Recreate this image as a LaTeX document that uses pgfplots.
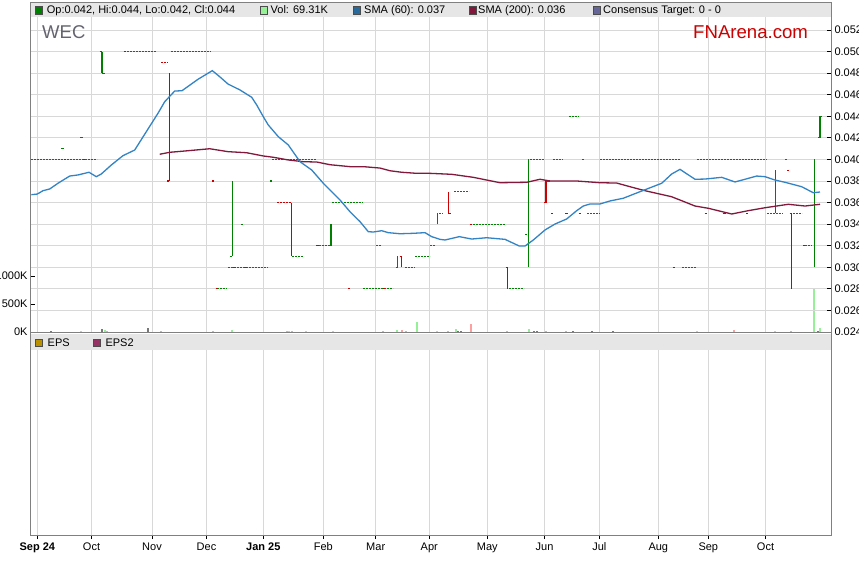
\documentclass[border=0pt]{standalone}
\usepackage{fontspec}
\setmainfont{Liberation Sans}
\usepackage{pgfplots}
\pgfplotsset{compat=1.18}
\definecolor{gridc}{RGB}{216,216,216}
\definecolor{bandc}{RGB}{230,230,230}
\definecolor{framec}{RGB}{128,128,128}
\definecolor{upc}{RGB}{0,128,0}
\definecolor{dnc}{RGB}{204,0,0}
\definecolor{volup}{RGB}{150,240,150}
\definecolor{voldn}{RGB}{255,160,160}
\definecolor{volgr}{RGB}{120,120,120}
\definecolor{sma60}{RGB}{51,132,196}
\definecolor{sma200}{RGB}{130,25,60}
\definecolor{consc}{RGB}{102,102,153}
\definecolor{epsc}{RGB}{184,144,0}
\definecolor{epstwo}{RGB}{150,50,100}
\definecolor{wecc}{RGB}{100,100,112}
\definecolor{fnc}{RGB}{204,0,0}
\begin{document}
\begin{tikzpicture}[font=\fontsize{11pt}{13pt}\selectfont]
\fill[white] (0pt,0pt) rectangle (859pt,566pt);
\fill[bandc] (30.5pt,563.5pt) rectangle (831pt,549pt);
\fill[bandc] (30.5pt,232pt) rectangle (831pt,216pt);

% ---------------- volume axis ----------------
\begin{axis}[at={(31pt,234pt)}, anchor=south west, scale only axis,
  width=800pt, height=315pt,
  xmin=31, xmax=831, ymin=0, ymax=5625,
  axis line style={draw=none},
  xtick=\empty, ytick={0,500,1000}, yticklabels={0K,500K,1000K},
  ytick pos=left, tick align=inside, major tick length=4pt,
  y tick style={black, line width=0.8pt},
  yticklabel style={font=\fontsize{11pt}{13pt}\selectfont}]
\addplot[ycomb, volup, line width=1.2pt] coordinates {
(81,15) (105,40) (232,35) (289,15) (306,15) (333,15) (397,40) (417,180)
(437,20) (456,45) (529,60) (697,15) (775,15) (814,770) (820,69.31)};
\addplot[ycomb, voldn, line width=1.2pt] coordinates {
(107,20) (161,20) (213,15) (287,25) (292,20) (383,15) (402,40) (406,20)
(448,15) (471,140) (507,20) (546,20) (566,15) (734,40) (791,20)};
\addplot[ycomb, volgr, line width=1.2pt] coordinates {
(51,15) (102,54) (148,77) (458,25) (461,20) (534,15) (537,15) (573,15)
(592,15) (613,10) (818,20)};
\end{axis}

% ---------------- price axis ----------------
\begin{axis}[at={(31pt,234pt)}, anchor=south west, scale only axis,
  width=800pt, height=315pt,
  xmin=31, xmax=831, ymin=0.024, ymax=0.053205,
  axis line style={draw=none},
  xtick={37.3,91.5,152,206.5,263.3,323.3,375.7,429.3,487.3,544.5,599.3,658.3,708.3,765.5},
  xticklabels={},
  x tick style={draw=none},
  ytick={0.024,0.026,0.028,0.030,0.032,0.034,0.036,0.038,0.040,0.042,0.044,0.046,0.048,0.050,0.052},
  scaled y ticks=false,
  ytick pos=right, yticklabel pos=right,
  tick align=inside, major tick length=4pt,
  y tick style={black, line width=0.8pt},
  yticklabel style={font=\fontsize{11pt}{13pt}\selectfont, /pgf/number format/fixed, /pgf/number format/fixed zerofill, /pgf/number format/precision=3, /pgf/number format/assume math mode=true},
  grid=major, grid style={gridc, line width=0.9pt},
  unbounded coords=jump]
% green flat runs
\addplot[upc, line width=1pt, dash pattern=on 2pt off 1pt] coordinates {
(31,0.040) (97,0.040) (97,nan)
(127,0.050) (157,0.050) (157,nan)
(171,0.050) (211,0.050) (211,nan)
(217,0.028) (227,0.028) (227,nan)
(228,0.030) (268,0.030) (268,nan)
(272,0.040) (316,0.040) (316,nan)
(292,0.031) (303,0.031) (303,nan)
(319,0.032) (330,0.032) (330,nan)
(332,0.036) (363,0.036) (363,nan)
(363,0.028) (393,0.028) (393,nan)
(376,0.032) (381,0.032) (381,nan)
(405,0.030) (415,0.030) (415,nan)
(415,0.031) (430,0.031) (430,nan)
(430,0.032) (436,0.032) (436,nan)
(439,0.035) (443,0.035) (443,nan)
(454,0.037) (469,0.037) (469,nan)
(473,0.034) (506,0.034) (506,nan)
(509,0.028) (524,0.028) (524,nan)
(530,0.040) (545,0.040) (545,nan)
(553,0.040) (563,0.040) (563,nan)
(569,0.044) (579,0.044) (579,nan)
(587,0.035) (600,0.035) (600,nan)
(600,0.040) (680,0.040) (680,nan)
(682,0.030) (696,0.030) (696,nan)
(697,0.040) (767,0.040) (767,nan)
(767,0.035) (783,0.035) (783,nan)
(790,0.035) (802,0.035) (802,nan)
(805,0.032) (812,0.032)};
% green bars and ticks
\addplot[upc, line width=1.1pt] coordinates {
(102,0.048) (102,0.050) (102,nan) (99.5,0.050) (102,0.050) (102,nan) (102,0.048) (104.5,0.048) (104.5,nan)
(232.3,0.031) (232.3,0.038) (232.3,nan) (230,0.031) (232.3,0.031) (232.3,nan)
(331,0.032) (331,0.034) (331,nan)
(397.7,0.030) (397.7,0.031) (397.7,nan) (395.5,0.030) (397.7,0.030) (397.7,nan)
(437.3,0.034) (437.3,0.035) (437.3,nan)
(528.3,0.030) (528.3,0.040) (528.3,nan)
(775.3,0.035) (775.3,0.039) (775.3,nan)
(814.3,0.030) (814.3,0.040) (814.3,nan)
(820,0.042) (820,0.044) (820,nan) (818,0.042) (820,0.042) (820,nan) (820,0.044) (822,0.044) (822,nan)
(61,0.041) (63.5,0.041) (63.5,nan)
(80,0.042) (82.5,0.042) (82.5,nan)
(241,0.034) (243,0.034) (243,nan)
(270,0.038) (272,0.038) (272,nan)
(525,0.033) (527,0.033) (527,nan)
(547,0.038) (550,0.038) (550,nan)
(582,0.040) (584,0.040) (584,nan)
(785,0.040) (787,0.040)};
% red bars and ticks
\addplot[dnc, line width=1.1pt] coordinates {
(169.3,0.038) (169.3,0.048) (169.3,nan) (167.3,0.038) (169.3,0.038) (169.3,nan)
(291.5,0.031) (291.5,0.036) (291.5,nan)
(401.3,0.030) (401.3,0.031) (401.3,nan) (399.5,0.031) (401.3,0.031) (401.3,nan)
(448.3,0.035) (448.3,0.037) (448.3,nan) (448.3,0.035) (450.5,0.035) (450.5,nan)
(507.3,0.028) (507.3,0.030) (507.3,nan) (505.5,0.030) (507.3,0.030) (507.3,nan)
(546,0.036) (546,0.038) (546,nan) (544.3,0.036) (546,0.036) (546,nan)
(791.3,0.028) (791.3,0.035) (791.3,nan) (789.5,0.035) (791.3,0.035) (791.3,nan)
(64,0.040) (66,0.040) (66,nan)
(82.5,0.040) (84.5,0.040) (84.5,nan)
(123.5,0.050) (126,0.050) (126,nan)
(212,0.038) (214,0.038) (214,nan)
(215.5,0.028) (217.5,0.028) (217.5,nan)
(233,0.030) (235.5,0.030) (235.5,nan)
(244,0.030) (246.5,0.030) (246.5,nan)
(316,0.032) (318.5,0.032) (318.5,nan)
(348,0.028) (350,0.028) (350,nan)
(382.5,0.028) (385,0.028) (385,nan)
(469.5,0.034) (471.5,0.034) (471.5,nan)
(551,0.035) (553,0.035) (553,nan)
(565,0.035) (568,0.035) (568,nan)
(578.5,0.035) (580.5,0.035) (580.5,nan)
(672.5,0.030) (674.5,0.030) (674.5,nan)
(704.5,0.035) (706.5,0.035) (706.5,nan)
(722.5,0.035) (725.5,0.035) (725.5,nan)
(746,0.035) (748,0.035) (748,nan)
(787,0.039) (789,0.039) (789,nan)
(803,0.032) (805,0.032)};
\addplot[dnc, line width=1pt, dash pattern=on 2pt off 1pt] coordinates {
(161,0.049) (168,0.049) (168,nan)
(277,0.036) (291,0.036)};
% SMA 200
\addplot[sma200, line width=1.3pt] coordinates {
(159.7,0.04048) (169.7,0.04066) (184.7,0.04078) (209.7,0.04099) (228,0.04072)
(246.7,0.04062) (263.3,0.04032) (273.3,0.04020) (288.3,0.03995) (303.3,0.03979)
(316.7,0.03976) (330,0.03951) (350,0.03933) (363.3,0.03933) (380,0.03920)
(390,0.03895) (401.7,0.03881) (416.7,0.03871) (430,0.03871) (451.7,0.03862)
(473.3,0.03834) (500,0.03784) (526.7,0.03788) (540,0.03816) (550,0.03800)
(576.7,0.03800) (600,0.03784) (616.7,0.03781) (630,0.03747) (645,0.03710)
(671.7,0.03654) (695,0.03568) (708.3,0.03547) (731.7,0.03494) (748.3,0.03525)
(765,0.03552) (788.3,0.03584) (805,0.03568) (820,0.03584)};
% SMA 60
\addplot[sma60, line width=1.3pt] coordinates {
(31.3,0.03673) (37.3,0.03679) (43,0.03710) (49.7,0.03726) (58,0.03779)
(69.7,0.03846) (78,0.03856) (89,0.03881) (96.3,0.03840) (101.3,0.03865)
(111.3,0.03948) (123,0.04035) (134.7,0.04087) (146.3,0.04257) (158,0.04428)
(164.7,0.04535) (174.7,0.04634) (182,0.04637) (198,0.04743) (212.3,0.04823)
(219.7,0.04767) (228,0.04699) (240,0.04644) (251.7,0.04576) (256.7,0.04505)
(263.3,0.04396) (268.3,0.04319) (278.3,0.04211) (288.3,0.04134) (300,0.03979)
(311.7,0.03902) (323.3,0.03779) (330,0.03717) (340,0.03624) (350,0.03515)
(360,0.03423) (368.3,0.03330) (373.3,0.03327) (381.7,0.03339) (388.3,0.03321)
(400,0.03311) (413.3,0.03315) (425,0.03321) (431.7,0.03284) (440,0.03259)
(445,0.03253) (459.3,0.03284) (471.7,0.03262) (486.7,0.03274) (505,0.03259)
(519.3,0.03197) (525,0.03197) (533.3,0.03253) (545,0.03346) (555,0.03401)
(566.7,0.03448) (576.7,0.03525) (583.3,0.03568) (590,0.03587) (600,0.03587)
(610,0.03615) (623.3,0.03640) (640,0.03701) (661.7,0.03779) (671.7,0.03865)
(680,0.03908) (695,0.03816) (705,0.03818) (721.7,0.03834) (735,0.03791)
(745,0.03816) (756.7,0.03846) (765,0.03840) (775,0.03809) (785,0.03788)
(801.7,0.03747) (813.3,0.03691) (820,0.03698)};
\end{axis}

% ---------------- EPS panel ----------------
\begin{axis}[at={(31pt,31pt)}, anchor=south west, scale only axis,
  width=800pt, height=185pt,
  xmin=31, xmax=831, ymin=0, ymax=1,
  axis line style={draw=none},
  xtick={37.3,91.5,152,206.5,263.3,323.3,375.7,429.3,487.3,544.5,599.3,658.3,708.3,765.5},
  xticklabels={\textbf{Sep 24},Oct,Nov,Dec,\textbf{Jan 25},Feb,Mar,Apr,May,Jun,Jul,Aug,Sep,Oct},
  xticklabel style={font=\fontsize{11pt}{13pt}\selectfont},
  ytick=\empty, xtick pos=bottom,
  tick align=outside, major tick length=4pt,
  x tick style={black, line width=0.8pt},
  xmajorgrids, grid style={gridc, line width=0.9pt}]
\addplot[draw=none] coordinates {(31,0)};
\end{axis}

% frame
\draw[framec, line width=1pt] (30.5pt,563.5pt) rectangle (831pt,31pt);
\draw[framec, line width=1pt] (30.5pt,234pt) -- (831pt,234pt);

% top legend
\filldraw[fill=upc, draw=black!70, line width=0.6pt] (35pt,559.3pt) rectangle (42.5pt,552pt);
\node[anchor=base west, inner sep=0pt] at (46.7pt,552.3pt) {Op:0.042, Hi:0.044, Lo:0.042, Cl:0.044};
\filldraw[fill=volup, draw=black!70, line width=0.6pt] (260pt,559.3pt) rectangle (267.3pt,552pt);
\node[anchor=base west, inner sep=0pt] at (270.5pt,552.3pt) {Vol: 69.31K};
\filldraw[fill=sma60!80!black, draw=black!70, line width=0.6pt] (353.3pt,559.3pt) rectangle (360.6pt,552pt);
\node[anchor=base west, inner sep=0pt] at (364pt,552.3pt) {SMA (60): 0.037};
\filldraw[fill=sma200, draw=black!70, line width=0.6pt] (469pt,559.3pt) rectangle (476.3pt,552pt);
\node[anchor=base west, inner sep=0pt] at (478pt,552.3pt) {SMA (200): 0.036};
\filldraw[fill=consc, draw=black!70, line width=0.6pt] (593.3pt,559.3pt) rectangle (600.6pt,552pt);
\node[anchor=base west, inner sep=0pt] at (603pt,552.3pt) {Consensus Target: 0 - 0};

% EPS legend
\filldraw[fill=epsc, draw=black!70, line width=0.6pt] (35pt,226.7pt) rectangle (42.5pt,219.3pt);
\node[anchor=base west, inner sep=0pt] at (47.5pt,219.3pt) {EPS};
\filldraw[fill=epstwo, draw=black!70, line width=0.6pt] (93.3pt,226.7pt) rectangle (100.6pt,219.3pt);
\node[anchor=base west, inner sep=0pt] at (105.3pt,219.3pt) {EPS2};

% titles
\node[anchor=base west, inner sep=0pt, text=wecc, font=\fontsize{18.5pt}{20pt}\selectfont] at (42pt,527pt) {WEC};
\node[anchor=base west, inner sep=0pt, text=fnc, font=\fontsize{18.6pt}{20pt}\selectfont] at (693pt,527pt) {FNArena.com};

\pgfresetboundingbox
\useasboundingbox (0pt,0pt) rectangle (859pt,566pt);
\end{tikzpicture}
\end{document}
